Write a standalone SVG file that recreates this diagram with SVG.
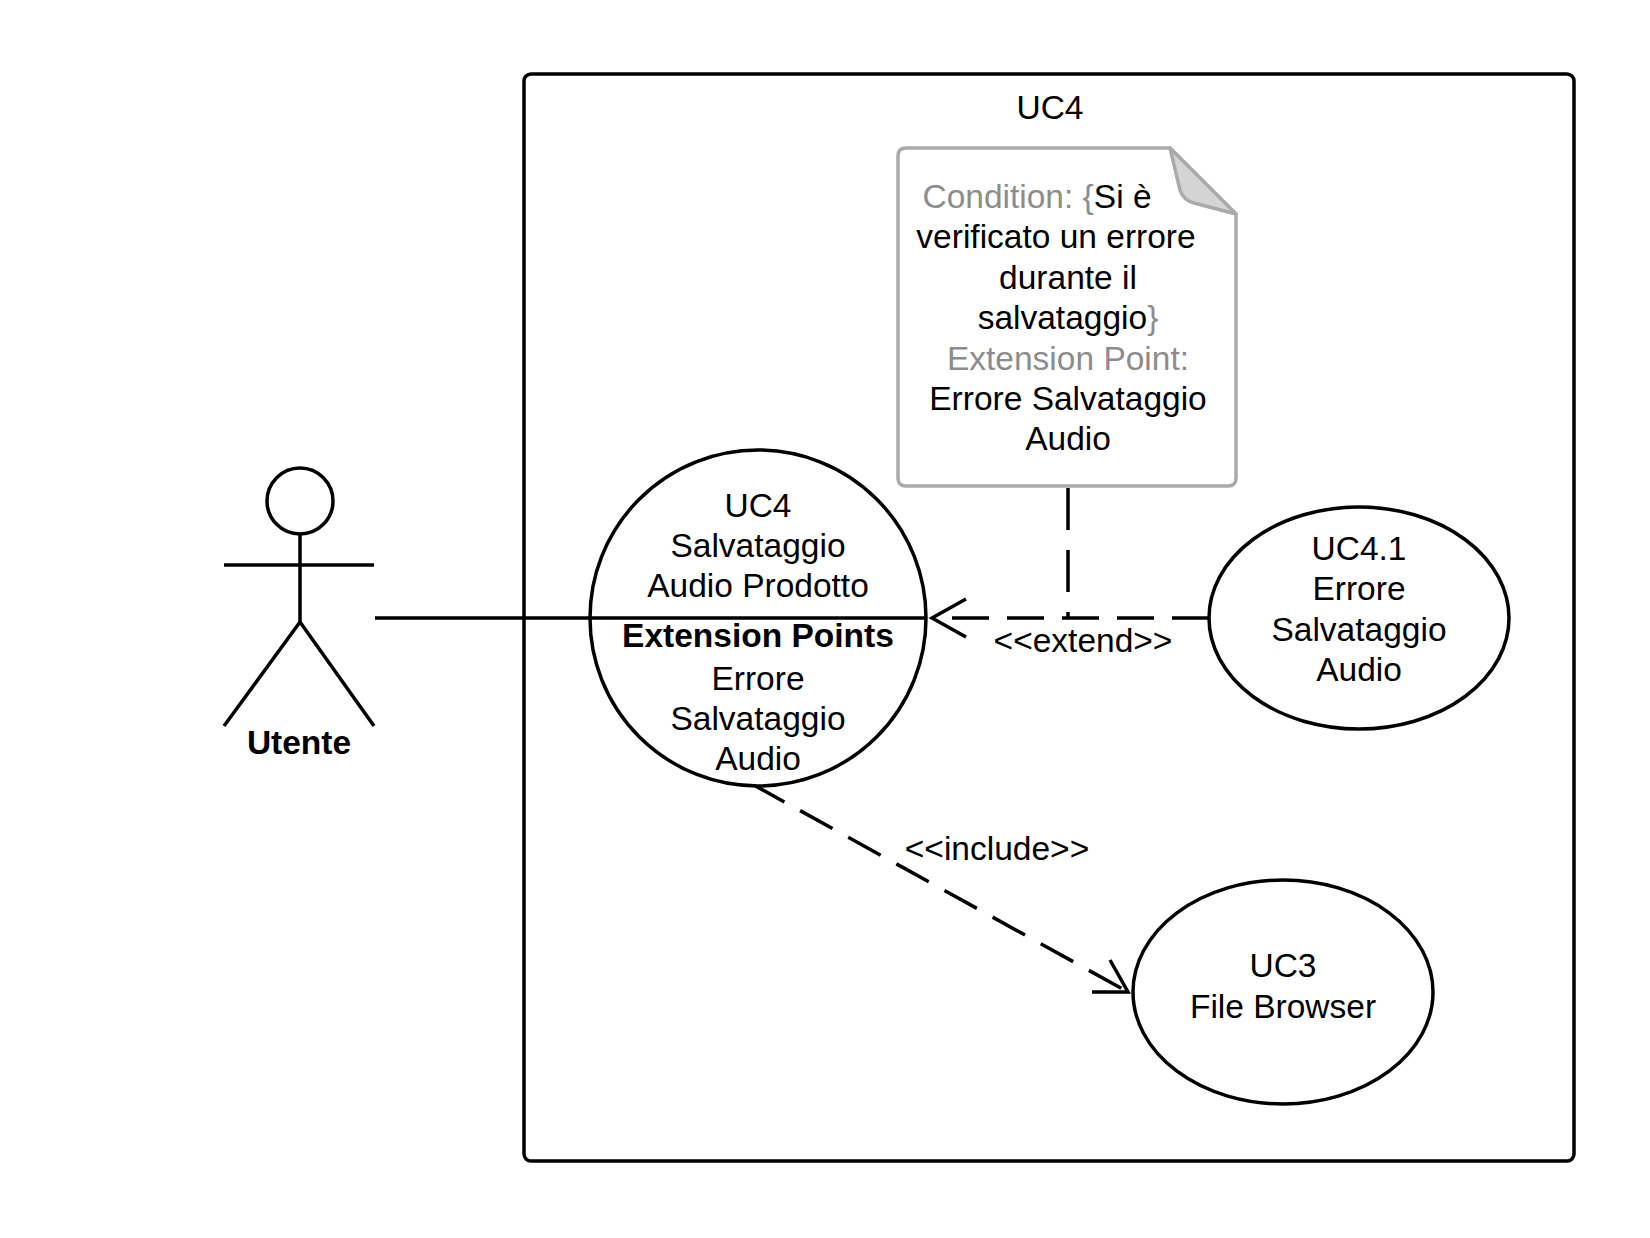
<svg xmlns="http://www.w3.org/2000/svg" width="1650" height="1238" viewBox="0 0 1650 1238">
<style>
text{font-family:"Liberation Sans",Arial,sans-serif;font-size:33.5px;fill:#000;text-anchor:middle}
.g{fill:#8c8c8c}
.b{font-weight:bold}
.s{fill:none;stroke:#000;stroke-width:3.5}
.w{fill:#fff;stroke:#000;stroke-width:3.5}
.d{fill:none;stroke:#000;stroke-width:3.5;stroke-dasharray:37 18}
</style>
<rect width="1650" height="1238" fill="#fff"/>
<g id="boundary">
<rect x="524" y="74" width="1050" height="1087" rx="7" class="s"/>
<text x="1050" y="119">UC4</text>
</g>
<g id="connectors">
<line x1="375" y1="618" x2="590" y2="618" class="s"/>
<line x1="1209" y1="618" x2="932" y2="618" class="d"/>
<polyline points="966,599 932,618 966,637" class="s"/>
<line x1="1068" y1="488" x2="1068" y2="618" class="d" style="stroke-dasharray:42 20"/>
<line x1="752" y1="784" x2="1128" y2="992" class="d"/>
<polyline points="1110,960 1128,992 1092,992" class="s"/>
<text x="1083" y="652">&lt;&lt;extend&gt;&gt;</text>
<text x="997" y="860">&lt;&lt;include&gt;&gt;</text>
</g>
<g id="actor">
<circle cx="300" cy="501" r="33" class="w"/>
<line x1="300" y1="534" x2="300" y2="622" class="s"/>
<line x1="224" y1="565" x2="374" y2="565" class="s"/>
<polyline points="224,726 300,622 374,726" class="s"/>
<text x="299" y="754" class="b">Utente</text>
</g>
<g id="note">
<path d="M906,148 H1170 L1236,214 V478 Q1236,486 1228,486 H906 Q898,486 898,478 V156 Q898,148 906,148 Z" fill="#fff" stroke="#aaa" stroke-width="3.5"/>
<path d="M1170,148 L1180,190 Q1183,200 1194,203 L1236,214 Z" fill="#d4d4d4" stroke="#aaa" stroke-width="3.5" stroke-linejoin="round"/>
<text x="1037" y="208"><tspan class="g">Condition: {</tspan>Si è</text>
<text x="1056" y="248">verificato un errore</text>
<text x="1068" y="289">durante il</text>
<text x="1068" y="329">salvataggio<tspan class="g">}</tspan></text>
<text x="1068" y="370" class="g">Extension Point:</text>
<text x="1068" y="410">Errore Salvataggio</text>
<text x="1068" y="450">Audio</text>
</g>
<g id="uc4">
<circle cx="758" cy="618" r="168" class="w"/>
<line x1="590" y1="618" x2="926" y2="618" class="s"/>
<text x="758" y="517">UC4</text>
<text x="758" y="557">Salvataggio</text>
<text x="758" y="597">Audio Prodotto</text>
<text x="758" y="647" class="b">Extension Points</text>
<text x="758" y="690">Errore</text>
<text x="758" y="730">Salvataggio</text>
<text x="758" y="770">Audio</text>
</g>
<g id="uc41">
<ellipse cx="1359" cy="618" rx="150" ry="111" class="w"/>
<text x="1359" y="560">UC4.1</text>
<text x="1359" y="600">Errore</text>
<text x="1359" y="641">Salvataggio</text>
<text x="1359" y="681">Audio</text>
</g>
<g id="uc3">
<ellipse cx="1283" cy="992" rx="150" ry="112" class="w"/>
<text x="1283" y="977">UC3</text>
<text x="1283" y="1018">File Browser</text>
</g>
</svg>
